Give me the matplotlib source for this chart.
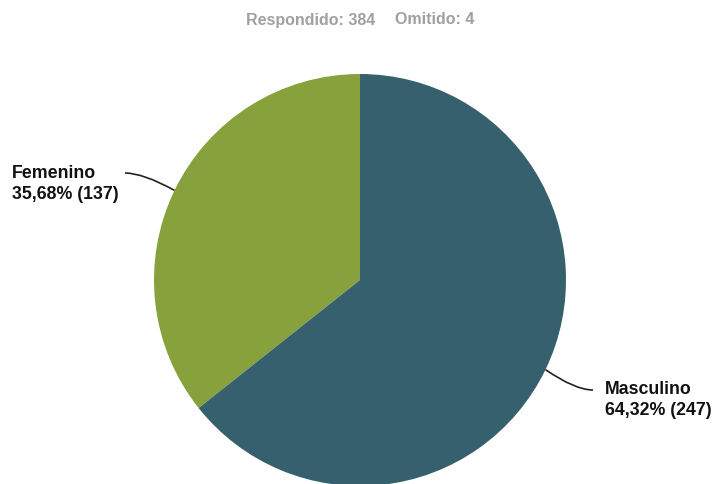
import matplotlib
matplotlib.use("Agg")
import matplotlib.pyplot as plt
import numpy as np
from matplotlib.path import Path
from matplotlib.patches import PathPatch

# =============================================================================
# Data
# =============================================================================
categories = ["Femenino", "Masculino"]
counts = [137, 247]
percents = ["35,68%", "64,32%"]
answered = 384
skipped = 4
colors = ["#87a13d", "#36606e"]

plt.rcParams['font.family'] = ['Liberation Sans', 'DejaVu Sans']

W, H = 714, 484
fig = plt.figure(figsize=(W / 100, H / 100), dpi=100)
fig.set_facecolor('w')
ax = fig.add_axes([0, 0, 1, 1])

cx, cy, r = 360, H - 280, 206

wedges, _ = ax.pie(counts, colors=colors, startangle=90, counterclock=True,
                   center=(cx, cy), radius=r, frame=True,
                   wedgeprops=dict(linewidth=0))
ax.set_xlim(0, W)
ax.set_ylim(0, H)
ax.set_aspect('equal')
ax.axis('off')

# leader lines + labels (line end, text position in pixels from top-left)
leader_end = {"Femenino": (125, 173), "Masculino": (593, 390)}
label_pos = {"Femenino": (12, 184), "Masculino": (605, 400)}
for w, name, pct, n in zip(wedges, categories, percents, counts):
    mid = np.deg2rad((w.theta1 + w.theta2) / 2)
    ex, ey = cx + r * np.cos(mid), cy + r * np.sin(mid)
    sx, sy = leader_end[name]
    sy = H - sy
    side = -1 if np.cos(mid) < 0 else 1
    ctrl = (sx - side * 18, sy)
    path = Path([(ex, ey), ctrl, (sx, sy)], [Path.MOVETO, Path.CURVE3, Path.CURVE3])
    ax.add_patch(PathPatch(path, fill=False, color='#222222', lw=1.2))
    tx, ty = label_pos[name]
    ax.text(tx, H - ty, name + "\n" + pct + " (" + str(n) + ")", ha='left', va='center',
            fontsize=12.8, fontweight='bold', color='#111111', linespacing=1.25)

ax.text(375, H - 20, "Respondido: " + str(answered), ha='right', va='center',
        fontsize=11.5, fontweight='bold', color='#a0a0a0')
ax.text(395, H - 20, "Omitido: " + str(skipped), ha='left', va='center',
        fontsize=11.5, fontweight='bold', color='#a0a0a0')

plt.savefig("out.png", dpi=100)
